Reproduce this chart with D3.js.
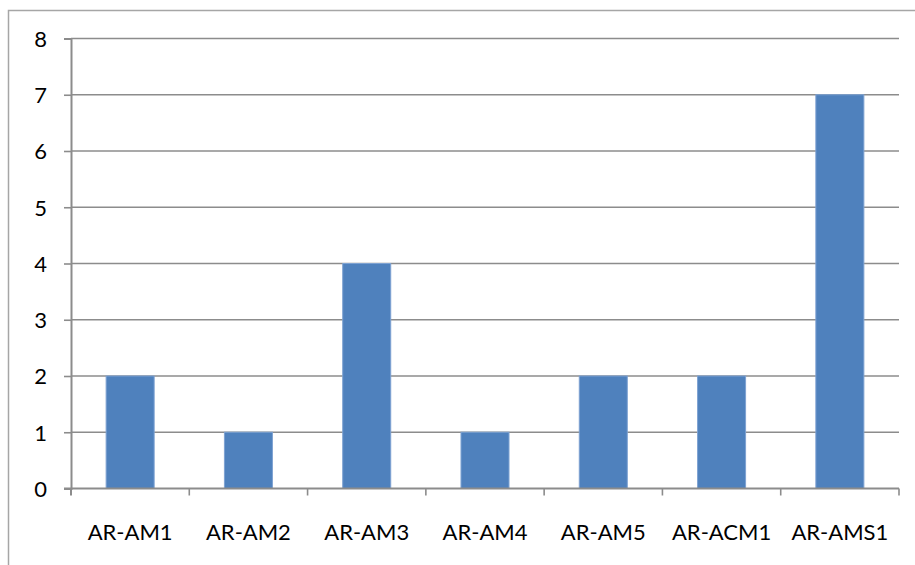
<!DOCTYPE html>
<html>
<head>
<meta charset="utf-8">
<script src="https://cdn.jsdelivr.net/npm/d3@7"></script>
<style>
  html, body { margin: 0; padding: 0; background: #fff; }
  svg { display: block; }
  text { font-family: Lato, "Open Sans", sans-serif; fill: #000; }
</style>
</head>
<body>
<svg id="chart" width="915" height="565"></svg>
<script>
// Counts per sample
const categories = ["AR-AM1", "AR-AM2", "AR-AM3", "AR-AM4", "AR-AM5", "AR-ACM1", "AR-AMS1"];
const values = [2, 1, 4, 1, 2, 2, 7];
const yTicks = [0, 1, 2, 3, 4, 5, 6, 7, 8];

const svg = d3.select("#chart");
const W = 915, H = 565;
const plot = { left: 71, right: 899, top: 38.5, bottom: 488.5 };

// outer chart frame (runs off the right and bottom edges)
svg.append("rect")
  .attr("x", 8.5).attr("y", 10.5)
  .attr("width", W + 20).attr("height", H + 20)
  .attr("fill", "none")
  .attr("stroke", "#a6a6a6")
  .attr("stroke-width", 1.5);

const x = d3.scaleBand()
  .domain(categories)
  .range([plot.left, plot.right])
  .paddingInner(0.594)
  .paddingOuter(0.297);

const xGroup = d3.scaleBand()
  .domain(categories)
  .range([plot.left, plot.right]);

const y = d3.scaleLinear()
  .domain([0, 8])
  .range([plot.bottom, plot.top]);

// horizontal gridlines
svg.append("g")
  .selectAll("line")
  .data(yTicks.filter(d => d > 0))
  .join("line")
  .attr("x1", plot.left).attr("x2", plot.right)
  .attr("y1", d => y(d)).attr("y2", d => y(d))
  .attr("stroke", "#8c8c8c")
  .attr("stroke-width", 1.6);

// bars
svg.append("g")
  .selectAll("rect")
  .data(categories.map((c, i) => ({ c, v: values[i] })))
  .join("rect")
  .attr("x", d => x(d.c))
  .attr("width", x.bandwidth())
  .attr("y", d => y(d.v))
  .attr("height", d => y(0) - y(d.v))
  .attr("fill", "#4f81bd")
  .attr("stroke", "#7ea2d2")
  .attr("stroke-width", 1);

// y axis
const yAxis = svg.append("g")
  .attr("transform", `translate(${plot.left},0)`)
  .call(d3.axisLeft(y).tickValues(yTicks).tickSize(7).tickPadding(17).tickFormat(d3.format("d")));
yAxis.select(".domain").attr("stroke", "#8c8c8c").attr("stroke-width", 2);
yAxis.selectAll(".tick line").attr("stroke", "#8c8c8c").attr("stroke-width", 1.6);
yAxis.selectAll(".tick text")
  .style("font-size", "22px")
  .attr("dy", "0.36em");

// x axis
const xAxis = svg.append("g")
  .attr("transform", `translate(0,${plot.bottom})`);
xAxis.append("line")
  .attr("x1", plot.left - 7).attr("x2", plot.right)
  .attr("y1", 0).attr("y2", 0)
  .attr("stroke", "#8c8c8c").attr("stroke-width", 2);
xAxis.selectAll(".tick-mark")
  .data(categories)
  .join("line")
  .attr("class", "tick-mark")
  .attr("x1", d => xGroup(d) + xGroup.bandwidth())
  .attr("x2", d => xGroup(d) + xGroup.bandwidth())
  .attr("y1", 0).attr("y2", 7)
  .attr("stroke", "#8c8c8c").attr("stroke-width", 1.6);
xAxis.append("line")
  .attr("x1", plot.left).attr("x2", plot.left)
  .attr("y1", 0).attr("y2", 7)
  .attr("stroke", "#8c8c8c").attr("stroke-width", 2);
xAxis.selectAll(".cat-label")
  .data(categories)
  .join("text")
  .attr("class", "cat-label")
  .attr("x", d => xGroup(d) + xGroup.bandwidth() / 2)
  .attr("y", 51)
  .attr("text-anchor", "middle")
  .style("font-size", "22px")
  .text(d => d);
</script>
</body>
</html>
